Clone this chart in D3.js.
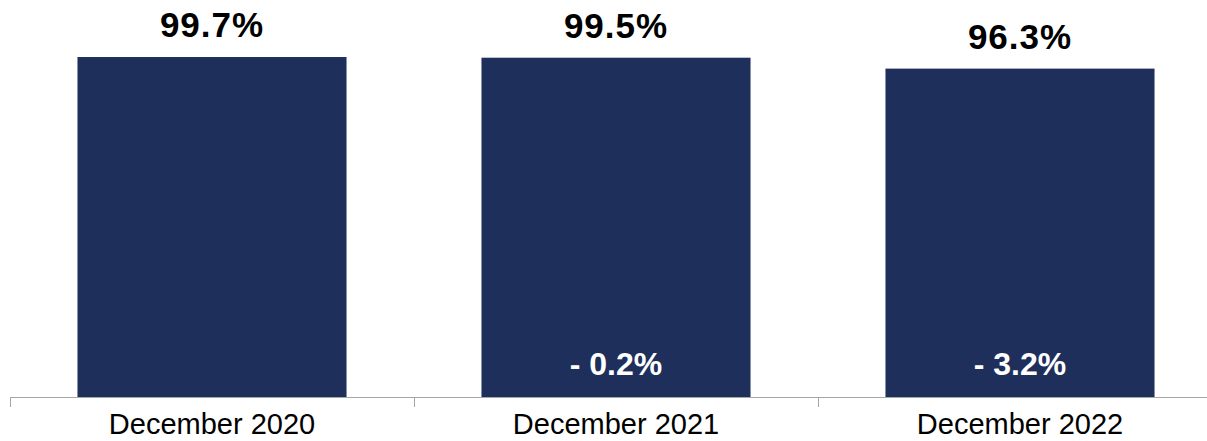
<!DOCTYPE html>
<html>
<head>
<meta charset="utf-8">
<script src="https://cdn.jsdelivr.net/npm/d3@7"></script>
<style>
  html, body { margin: 0; padding: 0; background: #fff; }
  svg { display: block; }
  text { font-family: "Liberation Sans", Arial, Helvetica, sans-serif; }
</style>
</head>
<body>
<svg id="chart" width="1207" height="441"></svg>
<script>
// Share of value retained at each year end
const categories = ["December 2020", "December 2021", "December 2022"];
const values = [99.7, 99.5, 96.3];
// Change versus the previous year (none for the first year)
const changes = [null, "- 0.2%", "- 3.2%"];

const svg = d3.select("#chart");
const barColor = "#1f2f5c";
const axisColor = "#a6a6a6";

const x = d3.scaleBand()
  .domain(categories)
  .range([10, 1222])
  .paddingInner(0.334)
  .paddingOuter(0.167);

const y = d3.scaleLinear()
  .domain([0, 100])
  .range([397, 56]);

// bars
svg.append("g")
  .selectAll("rect")
  .data(values)
  .join("rect")
  .attr("x", (d, i) => x(categories[i]))
  .attr("y", d => y(d))
  .attr("width", x.bandwidth())
  .attr("height", d => y(0) - y(d))
  .attr("fill", barColor);

// value labels above bars
svg.append("g")
  .selectAll("text")
  .data(values)
  .join("text")
  .attr("x", (d, i) => x(categories[i]) + x.bandwidth() / 2)
  .attr("y", d => y(d) - 20)
  .attr("text-anchor", "middle")
  .attr("font-size", 35)
  .attr("font-weight", "bold")
  .attr("letter-spacing", 1)
  .attr("fill", "#000")
  .text(d => d.toFixed(1) + "%");

// change labels inside bars
svg.append("g")
  .selectAll("text")
  .data(changes)
  .join("text")
  .filter(d => d !== null)
  .attr("x", d => x(categories[changes.indexOf(d)]) + x.bandwidth() / 2)
  .attr("y", 375)
  .attr("text-anchor", "middle")
  .attr("font-size", 32)
  .attr("font-weight", "bold")
  .attr("fill", "#fff")
  .text(d => d);

// category axis with ticks between bands
const axisY = y(0);
const g = svg.append("g");
g.append("line")
  .attr("x1", 10).attr("x2", 1222)
  .attr("y1", axisY + 0.5).attr("y2", axisY + 0.5)
  .attr("stroke", axisColor).attr("stroke-width", 1);

const tickXs = categories.map(c => x(c) - x.step() * x.paddingOuter())
  .concat([x(categories[categories.length - 1]) + x.bandwidth() + x.step() * x.paddingOuter()]);
g.selectAll("line.tick")
  .data(tickXs)
  .join("line")
  .attr("class", "tick")
  .attr("x1", d => Math.round(d) + 0.5).attr("x2", d => Math.round(d) + 0.5)
  .attr("y1", axisY).attr("y2", axisY + 10)
  .attr("stroke", axisColor).attr("stroke-width", 1);

g.selectAll("text")
  .data(categories)
  .join("text")
  .attr("x", d => x(d) + x.bandwidth() / 2)
  .attr("y", 434)
  .attr("text-anchor", "middle")
  .attr("font-size", 29)
  .attr("fill", "#000")
  .text(d => d);
</script>
</body>
</html>
